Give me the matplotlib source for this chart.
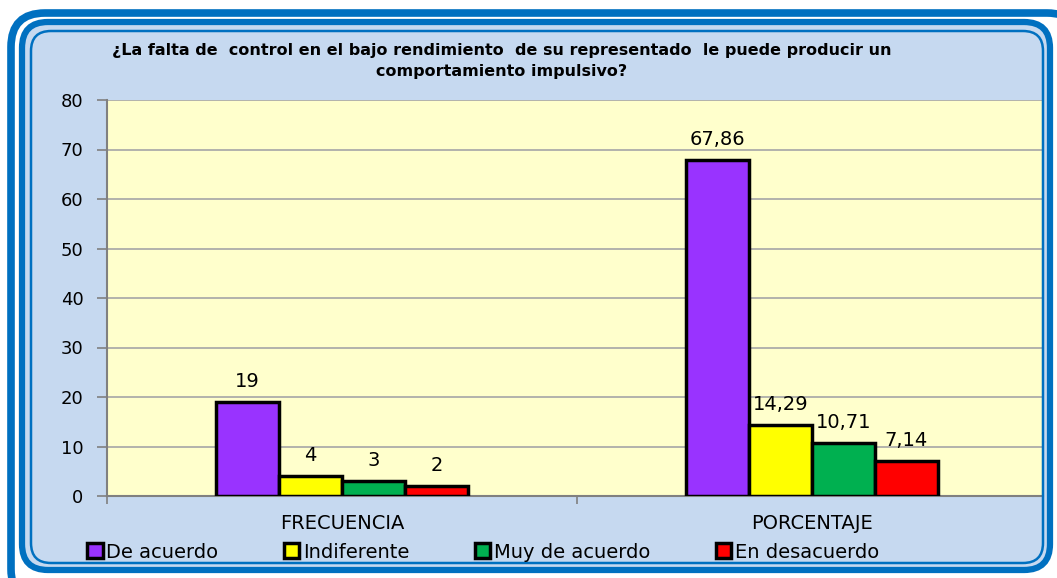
import numpy as np
import matplotlib
matplotlib.use("Agg")
import matplotlib.pyplot as plt
from matplotlib.patches import FancyBboxPatch, Patch

# Data
categories = ["FRECUENCIA", "PORCENTAJE"]
series = ["De acuerdo", "Indiferente", "Muy de acuerdo", "En desacuerdo"]
frecuencia = [19, 4, 3, 2]
porcentaje = [67.86, 14.29, 10.71, 7.14]
colors = ["#9933FF", "#FFFF00", "#00B050", "#FF0000"]
title = ("¿La falta de  control en el bajo rendimiento  de su representado  le puede producir un\n"
         "comportamiento impulsivo?")

plt.rcParams['font.family'] = ['DejaVu Sans']

W, H = 1057, 578
fig = plt.figure(figsize=(W / 100, H / 100), dpi=100)
fig.patch.set_facecolor("white")

# background frame drawn in pixel coordinates
bg = fig.add_axes([0, 0, 1, 1], zorder=-1)
bg.set_xlim(0, W)
bg.set_ylim(H, 0)
bg.axis("off")
blue = "#0070C0"
bg.add_patch(FancyBboxPatch((11, 13), 1070, 590, boxstyle="round,pad=0,rounding_size=34",
                            fc="white", ec=blue, lw=5.5))
bg.add_patch(FancyBboxPatch((22, 22), 1028, 548, boxstyle="round,pad=0,rounding_size=26",
                            fc="#C6D9F0", ec=blue, lw=4.5))

# main chart
ax = fig.add_axes([107 / W, 1 - 496 / H, 936 / W, 396 / H])
ax.set_facecolor("#FFFFCC")
x = np.arange(len(categories))
width = 0.134
offsets = (np.arange(len(series)) - 1.5) * width
data = np.array([frecuencia, porcentaje])
for i, name in enumerate(series):
    vals = data[:, i]
    bars = ax.bar(x + offsets[i], vals, width, color=colors[i], edgecolor="black",
                  linewidth=2.5, zorder=3, label=name)
    for j, (b, v) in enumerate(zip(bars, vals)):
        txt = str(int(v)) if j == 0 else f"{v:.2f}".replace(".", ",")
        ax.annotate(txt, (b.get_x() + b.get_width() / 2, v), xytext=(0, 8),
                    textcoords="offset points", ha="center", va="bottom", fontsize=14)

ax.set_xlim(-0.5, 1.5 - 4 / 470)
ax.set_ylim(0, 80)
ax.set_yticks(range(0, 81, 10))
ax.grid(axis="y", color="#A6A6A6", lw=1.2, zorder=0)
ax.set_axisbelow(True)
ax.set_xticks(x)
ax.set_xticklabels(categories, fontsize=14)
ax.set_xticks([-0.5, 0.5], minor=True)
ax.tick_params(axis="x", which="major", length=0, pad=13)
ax.tick_params(axis="x", which="minor", length=6, color="#808080", width=1.2)
ax.tick_params(axis="y", length=7, color="#808080", width=1.2, labelsize=13, pad=10)
for s in ["top", "right"]:
    ax.spines[s].set_visible(False)
for s in ["left", "bottom"]:
    ax.spines[s].set_color("#808080")
    ax.spines[s].set_linewidth(1.5)

# thin inner frame line on top of the plot area
fg = fig.add_axes([0, 0, 1, 1], zorder=5)
fg.set_xlim(0, W)
fg.set_ylim(H, 0)
fg.axis("off")
fg.patch.set_alpha(0)
fg.add_patch(FancyBboxPatch((31, 31), 1012, 532, boxstyle="round,pad=0,rounding_size=20",
                            fc="none", ec=blue, lw=1.8))

fig.text(502 / W, 1 - 61 / H, title, ha="center", va="center", fontsize=11.5,
         fontweight="bold", linespacing=1.55)

handles = [Patch(facecolor=c, edgecolor="black", linewidth=2.5) for c in colors]
fig.legend(handles, series, loc="center left", bbox_to_anchor=(87 / W, 1 - 552 / H),
           ncol=4, frameon=False, fontsize=14, handlelength=0.8, handleheight=0.8,
           handletextpad=0.2, columnspacing=3.35, borderpad=0, borderaxespad=0)

fig.savefig("out.png", dpi=100, facecolor="white")
